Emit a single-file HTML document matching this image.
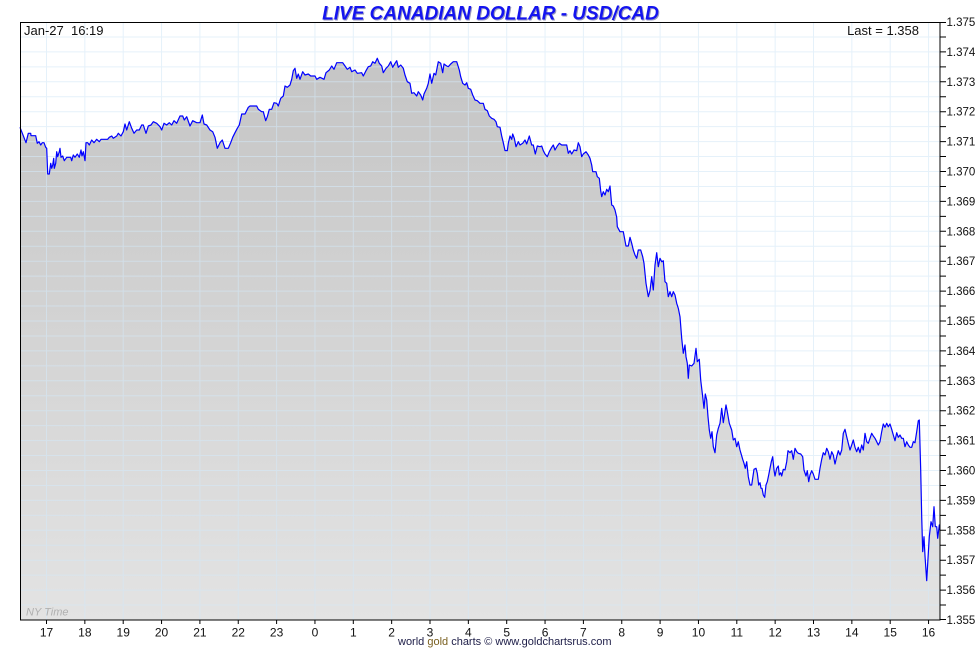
<!DOCTYPE html>
<html><head><meta charset="utf-8"><style>
html,body{margin:0;padding:0;background:#fff;}
svg{display:block;font-family:"Liberation Sans",Arial,sans-serif;}
</style></head><body>
<svg width="980" height="650" viewBox="0 0 980 650" xmlns="http://www.w3.org/2000/svg">
<defs>
<linearGradient id="g" x1="0" y1="22" x2="0" y2="620" gradientUnits="userSpaceOnUse">
<stop offset="0" stop-color="#c3c3c3"/>
<stop offset="1" stop-color="#e3e3e3"/>
</linearGradient>
</defs>
<rect x="0" y="0" width="980" height="650" fill="#fff"/>
<text x="490.5" y="19.5" text-anchor="middle" font-size="19" font-weight="bold" font-style="italic" fill="#1414f0" style="text-shadow:1px 1px 0 rgba(0,0,90,0.4)">LIVE CANADIAN DOLLAR - USD/CAD</text>
<polygon fill="url(#g)" points="20,127.3 21.7,131.7 26,142.7 28.3,133.3 30.7,133.3 31,135.7 35.7,135.7 37.3,143.3 39,141.7 40.7,145 42.3,142.7 44,142.7 45.7,147.3 46.7,148.3 47.7,174 49.3,174 50.7,163.3 51.7,168.3 52.7,165 53.7,158.3 54.3,168.3 55.7,163.3 56.7,151.7 57.7,156.7 59.3,151.7 60,148.3 61,157.3 62.7,156 64.3,160.7 66.7,157.3 70.7,157.3 71.7,160.7 73.3,155 75,157.3 77.3,154 79.3,157.3 81,150 82,156 83.3,151.7 85,160.7 86,142.7 87.7,142.7 89.3,145 91.7,140 94,142.7 96.7,139.3 99.3,141.7 101,139.3 107.7,139.3 109.3,137.3 111.7,136 113.3,138.3 116.7,136 118.3,133.3 121,136 123.3,131.7 125,124 126.7,130 129.3,121.7 131.7,128.3 134,133.3 136.7,130 139.3,130 141.7,125 143.3,125 146,133.3 148.3,126 151,125 153.3,121.7 156.7,123.3 160,126.7 161.7,130 164,123.3 166.7,125 169.3,122.7 171.7,125 174,120.7 176.7,123.3 180,116 182.7,116 184.3,120 186.7,116.7 190,126 192.7,120.7 196.7,122.7 200,122.7 202.3,115 204,124 206.7,125 210,130 212.7,131.7 215,137.3 217.3,148.3 220,142.7 222.3,140 225,148.3 228.3,148.3 230.7,142.7 232.7,137.3 235,132.7 237.3,128.3 239.3,125 241.7,114 245,114 248.3,107.3 250,106 256.7,106 258.3,109.3 261.7,111.7 263.3,111.7 265.7,120.7 267.3,116.7 269.3,109.3 271.7,109.3 274,102.7 276.7,103.3 278.3,106 280.7,98.3 283.3,96 285,86 287.3,87.3 290,85 291.7,79.3 293.3,70.7 295,68.3 296.7,78.3 298.3,74 300,79.3 302.7,71.7 305,75 308.3,74 310.7,76 315,76 316.7,79.3 320,77.3 324,79.3 326,72.7 329.3,70 331.7,66 334,69.3 336.7,62.7 342.7,62.7 345,66 347.3,69.3 350,67.3 351.7,71.7 355,70 357.3,73.3 361.7,72.7 363.3,76 366,70.7 368.3,66.7 370.7,66 372.7,61.7 375,63.3 377.3,58.3 379.3,63.3 381.7,66 383.3,72.7 386,68.3 388.3,66 390.7,61.7 392.7,67.3 395,63.3 396.7,60.7 398.3,67.3 400.7,65 403.3,68.3 405,75 407.3,81.7 410,83.3 411.7,93.3 414,92.7 416.7,96 418.3,91.7 420.7,95 422.7,100 424,94 426.7,88.3 428.3,83.3 430,74 431.7,83.3 434,73.3 435.7,75 438.3,61.7 440.7,63.3 442.7,72.7 444,64 446.7,66 448.3,66.7 450.7,64 453.3,61.7 456.7,61.7 459.3,70 460.7,76.7 462.7,83.3 465,85 466.7,82.7 468.3,88.3 470.7,89.3 472.7,95 475,100 477.3,100.7 480,103.3 483.3,103.3 485,109.3 487.3,110.7 489.3,116 491.7,118.3 494,119.3 496,121.7 497.3,126.7 500,127.3 501.7,136 503.3,142.7 505,150.5 507.3,150.7 508.3,143.3 510,136 511.7,139.3 512.7,134 514.3,138.3 516,146.7 518.3,141.7 520,145 522.7,143.3 525,140 526.7,144 529.3,136 531.7,145 533.3,145 535.3,154 537.3,146 540,146.7 541.7,146 543.3,150.7 545,154 547.3,156.7 549.3,151.7 551.7,147.3 553.3,145 555,150 557.3,146 559.3,143.3 561.7,145 566.7,145 568.3,153.3 570,150.7 571.7,154 574,150 576.7,150.7 578.3,142.7 580,146.7 581.7,156.7 583.3,154 586,151.7 588.3,155 590,158.3 591.7,165 592.7,171.7 596,171.7 597.3,176.7 599.3,178.3 600.7,190.7 601.7,196.7 603.3,191.7 605,195 606.7,189.3 608.3,191.7 610,186 611.7,205 613.3,206 615,210 616.7,217.3 617.3,226.7 620,231.7 623.3,231.7 626,246 628.3,246 630,237.3 631.7,243.3 633.3,250 635,255 636.7,258.3 638.3,250 640.7,250 642.7,256.7 644,263.3 646,283.3 648.3,296.7 650,290.7 651.7,276.7 653.3,290 655,265 656.7,252.7 658.3,266.7 660,258.3 661.7,261.7 663.3,260.7 665,281.7 666.7,283.3 668.3,296.7 670,291.7 671.7,296.7 673.3,291.7 675,295 676.7,303.3 678.3,308.3 680,316.7 681.7,338.3 683.3,353.3 685,345 686,356.7 687.3,363.3 688.3,378.3 689.3,365 691.7,366 694,363.3 696,348.3 697.3,361.7 699.3,359.3 700.7,380 702.7,396.7 704,408.3 705.3,394 706.7,400 708,416.7 709.3,430 710.7,438.3 712,431.7 713.3,446.7 715,452.7 716.7,435 718.3,428.3 720,423.3 721.7,408.3 723.3,422.7 726,405 727.3,411.7 729.3,423.3 731.7,430 733.3,440 735,438.3 736.7,446.7 738.3,441.7 740,450 742.7,459.3 744,463.3 745.3,468.3 746.7,461.7 748.3,476.7 750,485 751.7,485 754,469.3 756,468.3 757.3,473.3 758.7,485 760,482.7 761,488.3 762,488.3 763.3,495 764.7,497.3 766,485 767.3,481.7 768.7,475 770,468.3 771.3,461.7 772.7,456.7 774,470 775,476 776.7,468.3 778.3,466 779.3,475 780.7,472.7 781.7,476 783.3,469.3 785,470 786.7,461.7 788,450.7 790,452.7 791.7,450.7 793.3,459.3 795,448.3 796.7,451.7 798.3,453.3 800.7,454 802.7,456.7 804,470 806,476 807.3,470.7 808.7,481.7 810,475 811.7,470.7 813.3,474 815,479.3 818.3,479.3 820,468.3 821.7,459.3 823.3,452.7 825,455 826.7,448.3 828.3,451.7 830,459.3 831.7,451.7 833.3,455 835,464 836.7,456.7 838.3,450.7 840,455 841.7,450 843.3,433.3 845,429.3 846.7,436.7 848.3,443.3 850,450 851.7,445 853.3,440 855,447.3 856.7,451.7 858.3,447.3 860,452.7 861.7,445 863.3,450 865,433.3 866.7,441.7 868.3,443.3 870,438.3 871.7,433.3 873.3,436 875,438.3 876.7,441.7 878.3,445 880,441.7 881.7,431.7 883.3,424 885,427.3 886.7,423.3 888.3,426.7 890,424 891.7,429.3 893.3,435 895,440.7 896.7,432.7 898.3,437.3 900,435 901.7,438.3 903.3,438.3 905,446.7 906.7,441.7 908.3,445 910,447.3 911.7,447.3 913.3,441.7 915,442.7 916.7,431.7 918.3,420.7 919.3,420 920.7,470 921.7,516.7 922.7,551.7 924,536.7 925,556 926.7,580.7 928.3,553.3 929.3,536.7 931,521.7 932.7,526.7 934,506.7 935.3,526.7 936.7,526.7 937.7,538.3 939.3,525 940,530 940,620 20,620"/>
<path fill="none" stroke="#d4e7f7" stroke-opacity="0.6" stroke-width="1" d="M21 36.95H940M21 51.9H940M21 66.85H940M21 81.8H940M21 96.75H940M21 111.7H940M21 126.65H940M21 141.6H940M21 156.55H940M21 171.5H940M21 186.45H940M21 201.4H940M21 216.35H940M21 231.3H940M21 246.25H940M21 261.2H940M21 276.15H940M21 291.1H940M21 306.05H940M21 321H940M21 335.95H940M21 350.9H940M21 365.85H940M21 380.8H940M21 395.75H940M21 410.7H940M21 425.65H940M21 440.6H940M21 455.55H940M21 470.5H940M21 485.45H940M21 500.4H940M21 515.35H940M21 530.3H940M21 545.25H940M21 560.2H940M21 575.15H940M21 590.1H940M21 605.05H940M46.5 23V620M84.85 23V620M123.2 23V620M161.55 23V620M199.9 23V620M238.25 23V620M276.6 23V620M314.95 23V620M353.3 23V620M391.65 23V620M430 23V620M468.35 23V620M506.7 23V620M545.05 23V620M583.4 23V620M621.75 23V620M660.1 23V620M698.45 23V620M736.8 23V620M775.15 23V620M813.5 23V620M851.85 23V620M890.2 23V620M928.55 23V620"/>
<polyline fill="none" stroke="#0000ff" stroke-width="1.2" stroke-linejoin="round" points="20,127.3 21.7,131.7 26,142.7 28.3,133.3 30.7,133.3 31,135.7 35.7,135.7 37.3,143.3 39,141.7 40.7,145 42.3,142.7 44,142.7 45.7,147.3 46.7,148.3 47.7,174 49.3,174 50.7,163.3 51.7,168.3 52.7,165 53.7,158.3 54.3,168.3 55.7,163.3 56.7,151.7 57.7,156.7 59.3,151.7 60,148.3 61,157.3 62.7,156 64.3,160.7 66.7,157.3 70.7,157.3 71.7,160.7 73.3,155 75,157.3 77.3,154 79.3,157.3 81,150 82,156 83.3,151.7 85,160.7 86,142.7 87.7,142.7 89.3,145 91.7,140 94,142.7 96.7,139.3 99.3,141.7 101,139.3 107.7,139.3 109.3,137.3 111.7,136 113.3,138.3 116.7,136 118.3,133.3 121,136 123.3,131.7 125,124 126.7,130 129.3,121.7 131.7,128.3 134,133.3 136.7,130 139.3,130 141.7,125 143.3,125 146,133.3 148.3,126 151,125 153.3,121.7 156.7,123.3 160,126.7 161.7,130 164,123.3 166.7,125 169.3,122.7 171.7,125 174,120.7 176.7,123.3 180,116 182.7,116 184.3,120 186.7,116.7 190,126 192.7,120.7 196.7,122.7 200,122.7 202.3,115 204,124 206.7,125 210,130 212.7,131.7 215,137.3 217.3,148.3 220,142.7 222.3,140 225,148.3 228.3,148.3 230.7,142.7 232.7,137.3 235,132.7 237.3,128.3 239.3,125 241.7,114 245,114 248.3,107.3 250,106 256.7,106 258.3,109.3 261.7,111.7 263.3,111.7 265.7,120.7 267.3,116.7 269.3,109.3 271.7,109.3 274,102.7 276.7,103.3 278.3,106 280.7,98.3 283.3,96 285,86 287.3,87.3 290,85 291.7,79.3 293.3,70.7 295,68.3 296.7,78.3 298.3,74 300,79.3 302.7,71.7 305,75 308.3,74 310.7,76 315,76 316.7,79.3 320,77.3 324,79.3 326,72.7 329.3,70 331.7,66 334,69.3 336.7,62.7 342.7,62.7 345,66 347.3,69.3 350,67.3 351.7,71.7 355,70 357.3,73.3 361.7,72.7 363.3,76 366,70.7 368.3,66.7 370.7,66 372.7,61.7 375,63.3 377.3,58.3 379.3,63.3 381.7,66 383.3,72.7 386,68.3 388.3,66 390.7,61.7 392.7,67.3 395,63.3 396.7,60.7 398.3,67.3 400.7,65 403.3,68.3 405,75 407.3,81.7 410,83.3 411.7,93.3 414,92.7 416.7,96 418.3,91.7 420.7,95 422.7,100 424,94 426.7,88.3 428.3,83.3 430,74 431.7,83.3 434,73.3 435.7,75 438.3,61.7 440.7,63.3 442.7,72.7 444,64 446.7,66 448.3,66.7 450.7,64 453.3,61.7 456.7,61.7 459.3,70 460.7,76.7 462.7,83.3 465,85 466.7,82.7 468.3,88.3 470.7,89.3 472.7,95 475,100 477.3,100.7 480,103.3 483.3,103.3 485,109.3 487.3,110.7 489.3,116 491.7,118.3 494,119.3 496,121.7 497.3,126.7 500,127.3 501.7,136 503.3,142.7 505,150.5 507.3,150.7 508.3,143.3 510,136 511.7,139.3 512.7,134 514.3,138.3 516,146.7 518.3,141.7 520,145 522.7,143.3 525,140 526.7,144 529.3,136 531.7,145 533.3,145 535.3,154 537.3,146 540,146.7 541.7,146 543.3,150.7 545,154 547.3,156.7 549.3,151.7 551.7,147.3 553.3,145 555,150 557.3,146 559.3,143.3 561.7,145 566.7,145 568.3,153.3 570,150.7 571.7,154 574,150 576.7,150.7 578.3,142.7 580,146.7 581.7,156.7 583.3,154 586,151.7 588.3,155 590,158.3 591.7,165 592.7,171.7 596,171.7 597.3,176.7 599.3,178.3 600.7,190.7 601.7,196.7 603.3,191.7 605,195 606.7,189.3 608.3,191.7 610,186 611.7,205 613.3,206 615,210 616.7,217.3 617.3,226.7 620,231.7 623.3,231.7 626,246 628.3,246 630,237.3 631.7,243.3 633.3,250 635,255 636.7,258.3 638.3,250 640.7,250 642.7,256.7 644,263.3 646,283.3 648.3,296.7 650,290.7 651.7,276.7 653.3,290 655,265 656.7,252.7 658.3,266.7 660,258.3 661.7,261.7 663.3,260.7 665,281.7 666.7,283.3 668.3,296.7 670,291.7 671.7,296.7 673.3,291.7 675,295 676.7,303.3 678.3,308.3 680,316.7 681.7,338.3 683.3,353.3 685,345 686,356.7 687.3,363.3 688.3,378.3 689.3,365 691.7,366 694,363.3 696,348.3 697.3,361.7 699.3,359.3 700.7,380 702.7,396.7 704,408.3 705.3,394 706.7,400 708,416.7 709.3,430 710.7,438.3 712,431.7 713.3,446.7 715,452.7 716.7,435 718.3,428.3 720,423.3 721.7,408.3 723.3,422.7 726,405 727.3,411.7 729.3,423.3 731.7,430 733.3,440 735,438.3 736.7,446.7 738.3,441.7 740,450 742.7,459.3 744,463.3 745.3,468.3 746.7,461.7 748.3,476.7 750,485 751.7,485 754,469.3 756,468.3 757.3,473.3 758.7,485 760,482.7 761,488.3 762,488.3 763.3,495 764.7,497.3 766,485 767.3,481.7 768.7,475 770,468.3 771.3,461.7 772.7,456.7 774,470 775,476 776.7,468.3 778.3,466 779.3,475 780.7,472.7 781.7,476 783.3,469.3 785,470 786.7,461.7 788,450.7 790,452.7 791.7,450.7 793.3,459.3 795,448.3 796.7,451.7 798.3,453.3 800.7,454 802.7,456.7 804,470 806,476 807.3,470.7 808.7,481.7 810,475 811.7,470.7 813.3,474 815,479.3 818.3,479.3 820,468.3 821.7,459.3 823.3,452.7 825,455 826.7,448.3 828.3,451.7 830,459.3 831.7,451.7 833.3,455 835,464 836.7,456.7 838.3,450.7 840,455 841.7,450 843.3,433.3 845,429.3 846.7,436.7 848.3,443.3 850,450 851.7,445 853.3,440 855,447.3 856.7,451.7 858.3,447.3 860,452.7 861.7,445 863.3,450 865,433.3 866.7,441.7 868.3,443.3 870,438.3 871.7,433.3 873.3,436 875,438.3 876.7,441.7 878.3,445 880,441.7 881.7,431.7 883.3,424 885,427.3 886.7,423.3 888.3,426.7 890,424 891.7,429.3 893.3,435 895,440.7 896.7,432.7 898.3,437.3 900,435 901.7,438.3 903.3,438.3 905,446.7 906.7,441.7 908.3,445 910,447.3 911.7,447.3 913.3,441.7 915,442.7 916.7,431.7 918.3,420.7 919.3,420 920.7,470 921.7,516.7 922.7,551.7 924,536.7 925,556 926.7,580.7 928.3,553.3 929.3,536.7 931,521.7 932.7,526.7 934,506.7 935.3,526.7 936.7,526.7 937.7,538.3 939.3,525 940,530"/>
<rect x="20.5" y="22.5" width="919.5" height="597.5" fill="none" stroke="#000" stroke-width="1"/>
<path fill="none" stroke="#000" stroke-width="1" d="M940 22.5H946M940 36.95H946M940 51.9H946M940 66.85H946M940 81.8H946M940 96.75H946M940 111.7H946M940 126.65H946M940 141.6H946M940 156.55H946M940 171.5H946M940 186.45H946M940 201.4H946M940 216.35H946M940 231.3H946M940 246.25H946M940 261.2H946M940 276.15H946M940 291.1H946M940 306.05H946M940 321H946M940 335.95H946M940 350.9H946M940 365.85H946M940 380.8H946M940 395.75H946M940 410.7H946M940 425.65H946M940 440.6H946M940 455.55H946M940 470.5H946M940 485.45H946M940 500.4H946M940 515.35H946M940 530.3H946M940 545.25H946M940 560.2H946M940 575.15H946M940 590.1H946M940 605.05H946M940 619.5H946M46.5 620V624M84.85 620V624M123.2 620V624M161.55 620V624M199.9 620V624M238.25 620V624M276.6 620V624M314.95 620V624M353.3 620V624M391.65 620V624M430 620V624M468.35 620V624M506.7 620V624M545.05 620V624M583.4 620V624M621.75 620V624M660.1 620V624M698.45 620V624M736.8 620V624M775.15 620V624M813.5 620V624M851.85 620V624M890.2 620V624M928.55 620V624"/>
<g font-size="11.5" fill="#111">
<text x="946.5" y="26">1.375</text>
<text x="946.5" y="55.9">1.374</text>
<text x="946.5" y="85.8">1.373</text>
<text x="946.5" y="115.7">1.372</text>
<text x="946.5" y="145.6">1.371</text>
<text x="946.5" y="175.5">1.370</text>
<text x="946.5" y="205.4">1.369</text>
<text x="946.5" y="235.3">1.368</text>
<text x="946.5" y="265.2">1.367</text>
<text x="946.5" y="295.1">1.366</text>
<text x="946.5" y="325">1.365</text>
<text x="946.5" y="354.9">1.364</text>
<text x="946.5" y="384.8">1.363</text>
<text x="946.5" y="414.7">1.362</text>
<text x="946.5" y="444.6">1.361</text>
<text x="946.5" y="474.5">1.360</text>
<text x="946.5" y="504.4">1.359</text>
<text x="946.5" y="534.3">1.358</text>
<text x="946.5" y="564.2">1.357</text>
<text x="946.5" y="594.1">1.356</text>
<text x="946.5" y="624">1.355</text>
</g>
<g font-size="12" fill="#111" text-anchor="middle">
<text x="46.5" y="636.5">17</text>
<text x="84.85" y="636.5">18</text>
<text x="123.2" y="636.5">19</text>
<text x="161.55" y="636.5">20</text>
<text x="199.9" y="636.5">21</text>
<text x="238.25" y="636.5">22</text>
<text x="276.6" y="636.5">23</text>
<text x="314.95" y="636.5">0</text>
<text x="353.3" y="636.5">1</text>
<text x="391.65" y="636.5">2</text>
<text x="430" y="636.5">3</text>
<text x="468.35" y="636.5">4</text>
<text x="506.7" y="636.5">5</text>
<text x="545.05" y="636.5">6</text>
<text x="583.4" y="636.5">7</text>
<text x="621.75" y="636.5">8</text>
<text x="660.1" y="636.5">9</text>
<text x="698.45" y="636.5">10</text>
<text x="736.8" y="636.5">11</text>
<text x="775.15" y="636.5">12</text>
<text x="813.5" y="636.5">13</text>
<text x="851.85" y="636.5">14</text>
<text x="890.2" y="636.5">15</text>
<text x="928.55" y="636.5">16</text>
</g>
<text x="24" y="35" font-size="13" fill="#111" xml:space="preserve">Jan-27  16:19</text>
<text x="919" y="35" font-size="13" fill="#111" text-anchor="end">Last = 1.358</text>
<text x="26" y="615.5" font-size="11" font-style="italic" fill="#b0b0b0">NY Time</text>
<text x="398" y="645" font-size="11" fill="#20204a">world <tspan fill="#7a6020">gold</tspan> charts © www.goldchartsrus.com</text>
</svg>
</body></html>
